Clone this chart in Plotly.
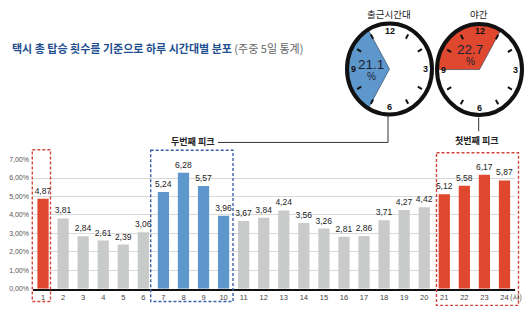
import math
import plotly.graph_objects as go

# Hourly share of taxi rides (weekday, 5-day totals), in percent
HOURS = list(range(1, 25))
SHARE = [4.87, 3.81, 2.84, 2.61, 2.39, 3.06, 5.24, 6.28, 5.57, 3.96, 3.67, 3.84,
         4.24, 3.56, 3.26, 2.81, 2.86, 3.71, 4.27, 4.42, 5.12, 5.58, 6.17, 5.87]
NIGHT_HOURS = [1, 21, 22, 23, 24]
COMMUTE_HOURS = [7, 8, 9, 10]
Y_TICKS = [0, 1, 2, 3, 4, 5, 6, 7]

COMMUTE_SHARE = "21.1"
NIGHT_SHARE = "22.7"

TITLE_MAIN = "택시 총 탑승 횟수를 기준으로 하루 시간대별 분포"
TITLE_NOTE = "(주중 5일 통계)"

RED = "#E0472F"
BLUE = "#5E97CB"
GRAY = "#C9CACA"
W, H = 530, 324

KR = "Noto Sans CJK KR"
LAT = "Liberation Sans, Arial, sans-serif"


def px(x):
    return x / W


def py(y):
    return 1 - y / H


def comma(v):
    return f"{v:.2f}".replace(".", ",")


colors = [RED if h in NIGHT_HOURS else BLUE if h in COMMUTE_HOURS else GRAY for h in HOURS]

fig = go.Figure(go.Bar(
    x=HOURS, y=SHARE, marker=dict(color=colors, line=dict(width=0)), width=0.56,
    text=SHARE, texttemplate="%{y:.2f}", textposition="outside", constraintext="none",
    textfont=dict(family=LAT, size=8.5, color="#222"), cliponaxis=False,
))

shapes = []
annotations = []

# title
annotations.append(dict(
    xref="paper", yref="paper", x=px(10), y=py(45), xanchor="left", yanchor="middle",
    text=f"<b>{TITLE_MAIN}</b> <span style='color:#666'>{TITLE_NOTE}</span>",
    showarrow=False, font=dict(family=KR, size=11, color="#1F4F8F"),
))


# highlight boxes around peak hours
def dash_box(x0, x1, y0, y1, color):
    shapes.append(dict(type="rect", xref="paper", yref="paper",
                       x0=px(x0), x1=px(x1), y0=py(y0), y1=py(y1),
                       line=dict(color=color, width=1.4, dash="3px,2px")))


dash_box(32.3, 50.5, 149, 304, "#D2473B")
dash_box(150.7, 233, 149.5, 304, "#3D5FA6")
dash_box(436.5, 518.5, 152, 308, "#D2473B")

# hour unit suffix
annotations.append(dict(xref="paper", yref="paper", x=px(507.5), y=py(299),
                        xanchor="left", yanchor="middle", text="(시)", showarrow=False,
                        font=dict(family=KR, size=7.5, color="#444")))


def clock(cx, cy, h0, h1, fill, share, share_xy, title):
    rx, ry = 42.5, 46.5

    def pt(hour, f):
        a = hour / 12 * 2 * math.pi
        return cx + f * rx * math.sin(a), cy - f * ry * math.cos(a)

    shapes.append(dict(type="circle", xref="paper", yref="paper",
                       x0=px(cx - rx), x1=px(cx + rx), y0=py(cy + ry), y1=py(cy - ry),
                       fillcolor="white", line=dict(width=0)))
    pts = [(cx, cy)] + [pt(h0 + (h1 - h0) * i / 60, 1.0) for i in range(61)]
    path = "M " + " L ".join(f"{px(x):.5f},{py(y):.5f}" for x, y in pts) + " Z"
    shapes.append(dict(type="path", xref="paper", yref="paper", path=path,
                       fillcolor=fill, line=dict(color="#2a3a50", width=0.6)))
    for hr in [1, 2, 4, 5, 7, 8, 10, 11]:
        xa, ya = pt(hr, 0.77)
        xb, yb = pt(hr, 0.88)
        shapes.append(dict(type="line", xref="paper", yref="paper",
                           x0=px(xa), y0=py(ya), x1=px(xb), y1=py(yb),
                           line=dict(color="#111", width=2)))
    shapes.append(dict(type="circle", xref="paper", yref="paper",
                       x0=px(cx - rx), x1=px(cx + rx), y0=py(cy + ry), y1=py(cy - ry),
                       line=dict(color="#111", width=4)))
    for hr, txt in [(12, "12"), (3, "3"), (6, "6"), (9, "9")]:
        x, y = pt(hr, 0.84)
        annotations.append(dict(xref="paper", yref="paper", x=px(x), y=py(y),
                                text=f"<b>{txt}</b>", showarrow=False,
                                xanchor="center", yanchor="middle",
                                font=dict(family=LAT, size=9, color="#111")))
    sx, sy = share_xy
    annotations.append(dict(xref="paper", yref="paper", x=px(sx), y=py(sy), text=share,
                            showarrow=False, xanchor="center", yanchor="middle",
                            font=dict(family=LAT, size=13.5, color="#1a2233")))
    annotations.append(dict(xref="paper", yref="paper", x=px(sx + 0.5), y=py(sy + 12.5), text="%",
                            showarrow=False, xanchor="center", yanchor="middle",
                            font=dict(family=LAT, size=10, color="#1a2233")))
    annotations.append(dict(xref="paper", yref="paper", x=px(cx - 1), y=py(10), text=title,
                            showarrow=False, xanchor="center", yanchor="middle",
                            font=dict(family=KR, size=9.5, color="#222")))


clock(389.5, 66.5, 7, 11, BLUE, COMMUTE_SHARE, (370.5, 61.5), "출근시간대")
clock(479.5, 67, 21, 25, RED, NIGHT_SHARE, (469.5, 46.5), "야간")

# callout leaders
line_style = dict(color="#333", width=1)
shapes.append(dict(type="line", xref="paper", yref="paper", x0=px(388), x1=px(388),
                   y0=py(114), y1=py(141.5), line=line_style))
shapes.append(dict(type="line", xref="paper", yref="paper", x0=px(218), x1=px(388),
                   y0=py(141.5), y1=py(141.5), line=line_style))
shapes.append(dict(type="line", xref="paper", yref="paper", x0=px(478.7), x1=px(478.7),
                   y0=py(116), y1=py(130), line=line_style))
annotations.append(dict(xref="paper", yref="paper", x=px(192.5), y=py(140.5), text="<b>두번째 피크</b>",
                        showarrow=False, xanchor="center", yanchor="middle",
                        font=dict(family=KR, size=9, color="#222")))
annotations.append(dict(xref="paper", yref="paper", x=px(476.7), y=py(140), text="<b>첫번째 피크</b>",
                        showarrow=False, xanchor="center", yanchor="middle",
                        font=dict(family=KR, size=9, color="#222")))

fig.update_layout(
    width=W, height=H, margin=dict(l=0, r=0, t=0, b=0),
    paper_bgcolor="white", plot_bgcolor="white",
    separators=",.", showlegend=False,
    shapes=shapes, annotations=annotations,
    xaxis=dict(domain=[px(33), px(514.5)], range=[0.5, 24.5], tickmode="array",
               tickvals=HOURS, ticktext=[str(h) for h in HOURS],
               tickfont=dict(family=LAT, size=7.5, color="#444"),
               showline=True, linecolor="#111", linewidth=2, ticks="", showgrid=False,
               fixedrange=True),
    yaxis=dict(domain=[33 / H, 165 / H], range=[0, 7], tickmode="array",
               tickvals=Y_TICKS, ticktext=[comma(v) + "%" for v in Y_TICKS],
               tickfont=dict(family=LAT, size=7, color="#555"),
               showgrid=True, gridcolor="#D9D9D9", gridwidth=1, zeroline=False,
               ticklabelstandoff=3, fixedrange=True),
)

fig.write_html("out.html")
